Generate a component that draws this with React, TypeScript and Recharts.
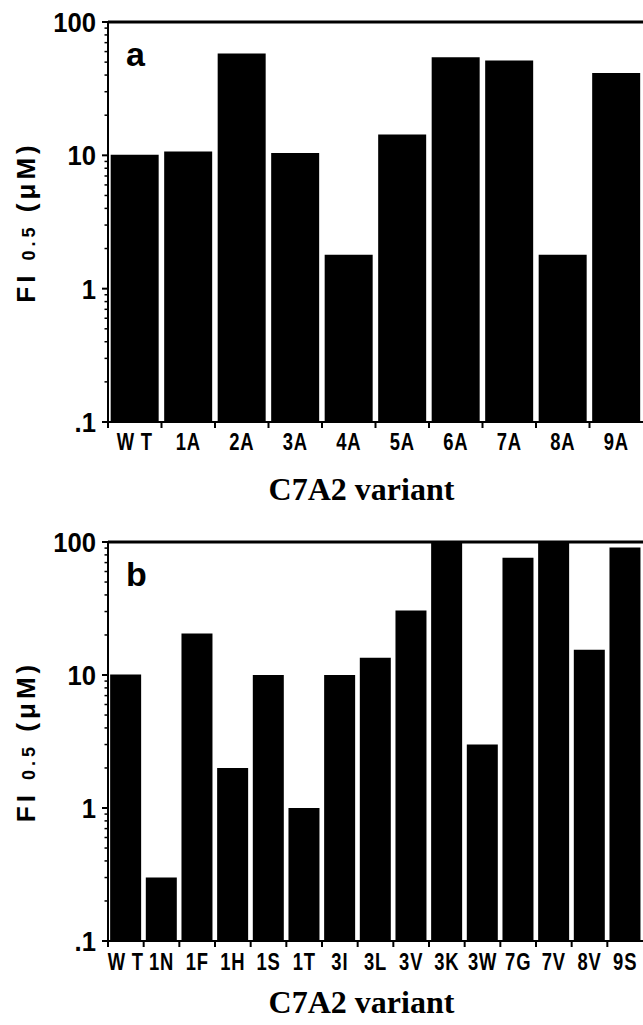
import React from 'react';
import { BarChart, Bar, XAxis, YAxis, ReferenceLine } from 'recharts';

// panel a: alanine scan
const alaVariants = ['W T', '1A', '2A', '3A', '4A', '5A', '6A', '7A', '8A', '9A'];
const alaValues = [10.1, 10.7, 58, 10.4, 1.8, 14.3, 54.5, 51.5, 1.8, 41.5];

// panel b: other substitutions
const subVariants = ['W T', '1N', '1F', '1H', '1S', '1T', '3I', '3L', '3V', '3K', '3W', '7G', '7V', '8V', '9S'];
const subValues = [10.1, 0.3, 20.5, 2, 10, 1, 10, 13.5, 30.5, 100, 3, 76, 100, 15.5, 91];

const majorTicks = [0.1, 1, 10, 100];
const allTicks = [
  0.1, 0.2, 0.3, 0.4, 0.5, 0.6, 0.7, 0.8, 0.9,
  1, 2, 3, 4, 5, 6, 7, 8, 9,
  10, 20, 30, 40, 50, 60, 70, 80, 90,
  100,
];

const SANS = '"Liberation Sans", Arial, Helvetica, sans-serif';
const SERIF = '"Liberation Serif", "Times New Roman", serif';

const W = 643;
const AXIS_W = 108;
const PLOT_W = W - AXIS_W;

const fmt = (v: number) => (v === 0.1 ? '.1' : String(v));

const YTick = (props: any) => {
  const { x, y, payload } = props;
  const v = payload.value;
  const major = majorTicks.indexOf(v) >= 0;
  return (
    <g>
      <line x1={x - (major ? 6 : 3.5)} y1={y} x2={x} y2={y} stroke="#000" strokeWidth={major ? 2 : 1.5} />
      {major && (
        <text
          transform={`translate(${x - 12},${y + 10}) scale(0.95,1.05)`}
          textAnchor="end"
          fontFamily={SANS}
          fontWeight="bold"
          fontSize={27}
          fill="#000"
        >
          {fmt(v)}
        </text>
      )}
    </g>
  );
};

const makeXTick = (step: number, labelDy: number) => (props: any) => {
  const { x, y, payload } = props;
  const left = x - step / 2;
  return (
    <g>
      <line x1={left} y1={y} x2={left} y2={y + 6} stroke="#000" strokeWidth={2} />
      <text
        transform={`translate(${x},${y + labelDy}) scale(0.8,1)`}
        textAnchor="middle"
        fontFamily={SANS}
        fontWeight="bold"
        fontSize={23}
        letterSpacing={1}
        fill="#000"
      >
        {payload.value}
      </text>
    </g>
  );
};

const YTitle = ({ cy }: { cy: number }) => (
  <text
    x={35}
    y={cy}
    transform={`rotate(-90 35 ${cy})`}
    textAnchor="middle"
    fontFamily={SANS}
    fontWeight="bold"
    fontSize={26}
    letterSpacing={4}
    fill="#000"
  >
    FI <tspan fontSize={18}>0.5</tspan> (μM)
  </text>
);

interface PanelProps {
  letter: string;
  names: string[];
  values: number[];
  top: number;
  height: number;
  xAxisHeight: number;
  gap: string;
  tickDy: number;
  titleDy: number;
}

const Panel = ({ letter, names, values, top, height, xAxisHeight, gap, tickDy, titleDy }: PanelProps) => {
  const data = names.map((name, i) => ({ name, value: values[i] }));
  const marginTop = 22;
  const plotH = height - marginTop - xAxisHeight;
  const step = PLOT_W / names.length;
  return (
    <div style={{ position: 'absolute', left: 0, top }}>
      <BarChart
        width={W}
        height={height}
        data={data}
        margin={{ top: marginTop, right: 0, bottom: 0, left: 0 }}
        barCategoryGap={gap}
      >
        <XAxis
          dataKey="name"
          interval={0}
          height={xAxisHeight}
          tickSize={0}
          tickMargin={0}
          axisLine={{ stroke: '#000', strokeWidth: 2 }}
          tickLine={false}
          tick={makeXTick(step, tickDy)}
          label={{
            content: () => (
              <text
                x={AXIS_W + PLOT_W / 2 - 14}
                y={marginTop + plotH + titleDy}
                textAnchor="middle"
                fontFamily={SERIF}
                fontWeight="bold"
                fontSize={32}
                fill="#000"
              >
                C7A2 variant
              </text>
            ),
          }}
        />
        <YAxis
          type="number"
          scale="log"
          domain={[0.1, 100]}
          allowDataOverflow
          ticks={allTicks}
          interval={0}
          width={AXIS_W}
          tickSize={0}
          tickMargin={0}
          tickLine={false}
          axisLine={{ stroke: '#000', strokeWidth: 2 }}
          tick={YTick}
          label={{ content: () => <YTitle cy={marginTop + plotH / 2} /> }}
        />
        <ReferenceLine
          y={100}
          stroke="#000"
          strokeWidth={3}
          label={{
            content: () => (
              <text
                x={AXIS_W + 18}
                y={marginTop + 44}
                fontFamily={SANS}
                fontWeight="bold"
                fontSize={34}
                fill="#000"
              >
                {letter}
              </text>
            ),
          }}
        />
        <Bar dataKey="value" fill="#000" isAnimationActive={false} />
      </BarChart>
    </div>
  );
};

export default function App() {
  return (
    <div style={{ position: 'absolute', left: 0, top: 0, width: W, height: 1025, background: '#fff' }}>
      <Panel
        letter="a"
        names={alaVariants}
        values={alaValues}
        top={0}
        height={510}
        xAxisHeight={88}
        gap="5%"
        tickDy={28}
        titleDy={78}
      />
      <Panel
        letter="b"
        names={subVariants}
        values={subValues}
        top={520}
        height={505}
        xAxisHeight={84}
        gap="6%"
        tickDy={29}
        titleDy={72}
      />
    </div>
  );
}
